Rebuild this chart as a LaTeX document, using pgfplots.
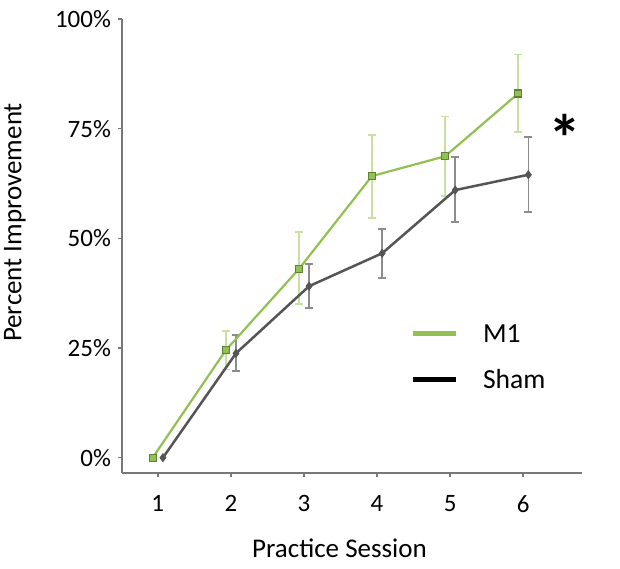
\documentclass[border=0pt]{standalone}
\usepackage{fontspec}
\setmainfont{Carlito}
\usepackage{pgfplots}
\pgfplotsset{compat=1.18}
\usepackage{pgfplotstable}
\definecolor{colM1}{RGB}{145,193,82}
\definecolor{colM1mark}{RGB}{95,130,50}
\definecolor{colM1err}{RGB}{200,224,160}
\definecolor{colSham}{RGB}{85,85,85}
\definecolor{colShamErr}{RGB}{140,140,140}
\definecolor{axisgray}{RGB}{120,120,120}

\pgfplotstableread{
x y ep em
0.93 0 0 0
1.93 24.5 4.4 4.4
2.93 43.0 8.4 8.0
3.93 64.2 9.4 9.5
4.93 68.7 9.1 9.0
5.93 83.0 8.9 8.8
}\mone
\pgfplotstableread{
x y ep em
1.07 0 0 0
2.07 23.8 4.2 4.0
3.07 39.1 5.1 5.0
4.07 46.6 5.5 5.6
5.07 61.0 7.5 7.3
6.07 64.5 8.6 8.5
}\sham

\begin{document}
\begin{tikzpicture}
\begin{axis}[
  scale only axis, width=229.85pt, height=226.85pt,
  xmin=0.51, xmax=6.80, ymin=-3.42, ymax=100,
  axis lines=left,
  axis line style={-, draw=axisgray, line width=0.85pt},
  xtick={1,2,3,4,5,6}, xticklabels={1,2,3,4,5,6},
  ytick={0,25,50,75,100}, yticklabels={0\%,25\%,50\%,75\%,100\%},
  tick style={draw=axisgray, line width=0.75pt},
  tick align=outside, major tick length=2pt,
  ticklabel style={font=\fontsize{12.5}{14}\selectfont},
  xticklabel style={yshift=-6pt},
  xlabel={Practice Session}, ylabel={Percent Improvement},
  label style={font=\fontsize{13.5}{16}\selectfont},
  xlabel style={at={(axis description cs:0.473,-0.166)}, anchor=center},
  ylabel style={at={(axis description cs:-0.2328,0.5515)}, anchor=center},
  legend style={draw=none, fill=none, at={(axis description cs:0.6265,0.2565)}, anchor=west,
    inner sep=0pt, row sep=13.5pt,
    nodes={inner sep=0pt, text height=9.5pt, text depth=0pt, font=\fontsize{13.8}{16}\selectfont},
    /tikz/every odd column/.append style={column sep=12pt}},
  legend cell align=left,
  legend image code/.code={\draw[#1] (0pt,0pt) -- (21.5pt,0pt);},
  clip=false,
]
\addlegendimage{colM1, line width=2.8pt}
\addlegendentry{M1}
\addlegendimage{black, line width=2.8pt}
\addlegendentry{Sham}

% error bars
\addplot[draw=none, mark=none, forget plot, skip coords between index={0}{1},
  error bars/.cd, y dir=both, y explicit,
  error bar style={colM1err, line width=0.8pt},
  error mark options={rotate=90, mark size=2pt, colM1err, line width=0.8pt}]
  table[x=x, y=y, y error plus=ep, y error minus=em] {\mone};
\addplot[draw=none, mark=none, forget plot, skip coords between index={0}{1},
  error bars/.cd, y dir=both, y explicit,
  error bar style={colShamErr, line width=0.8pt},
  error mark options={rotate=90, mark size=2pt, colShamErr, line width=0.8pt}]
  table[x=x, y=y, y error plus=ep, y error minus=em] {\sham};

% lines
\addplot[colSham, line width=1.25pt, mark=diamond*, mark size=1.9pt,
  mark options={fill=colSham, draw=colSham, line width=0.5pt}, forget plot]
  table[x=x, y=y] {\sham};
\addplot[colM1, line width=1.1pt, mark=square*, mark size=1.75pt,
  mark options={fill=colM1, draw=colM1mark, line width=0.6pt}, forget plot]
  table[x=x, y=y] {\mone};

\node[font=\fontsize{33}{33}\selectfont\bfseries, anchor=base] at (axis cs:6.57,67.6) {*};
\end{axis}
\pgfresetboundingbox
\path (-61pt,-47.65pt) rectangle (249pt,236.35pt);
\end{tikzpicture}
\end{document}
